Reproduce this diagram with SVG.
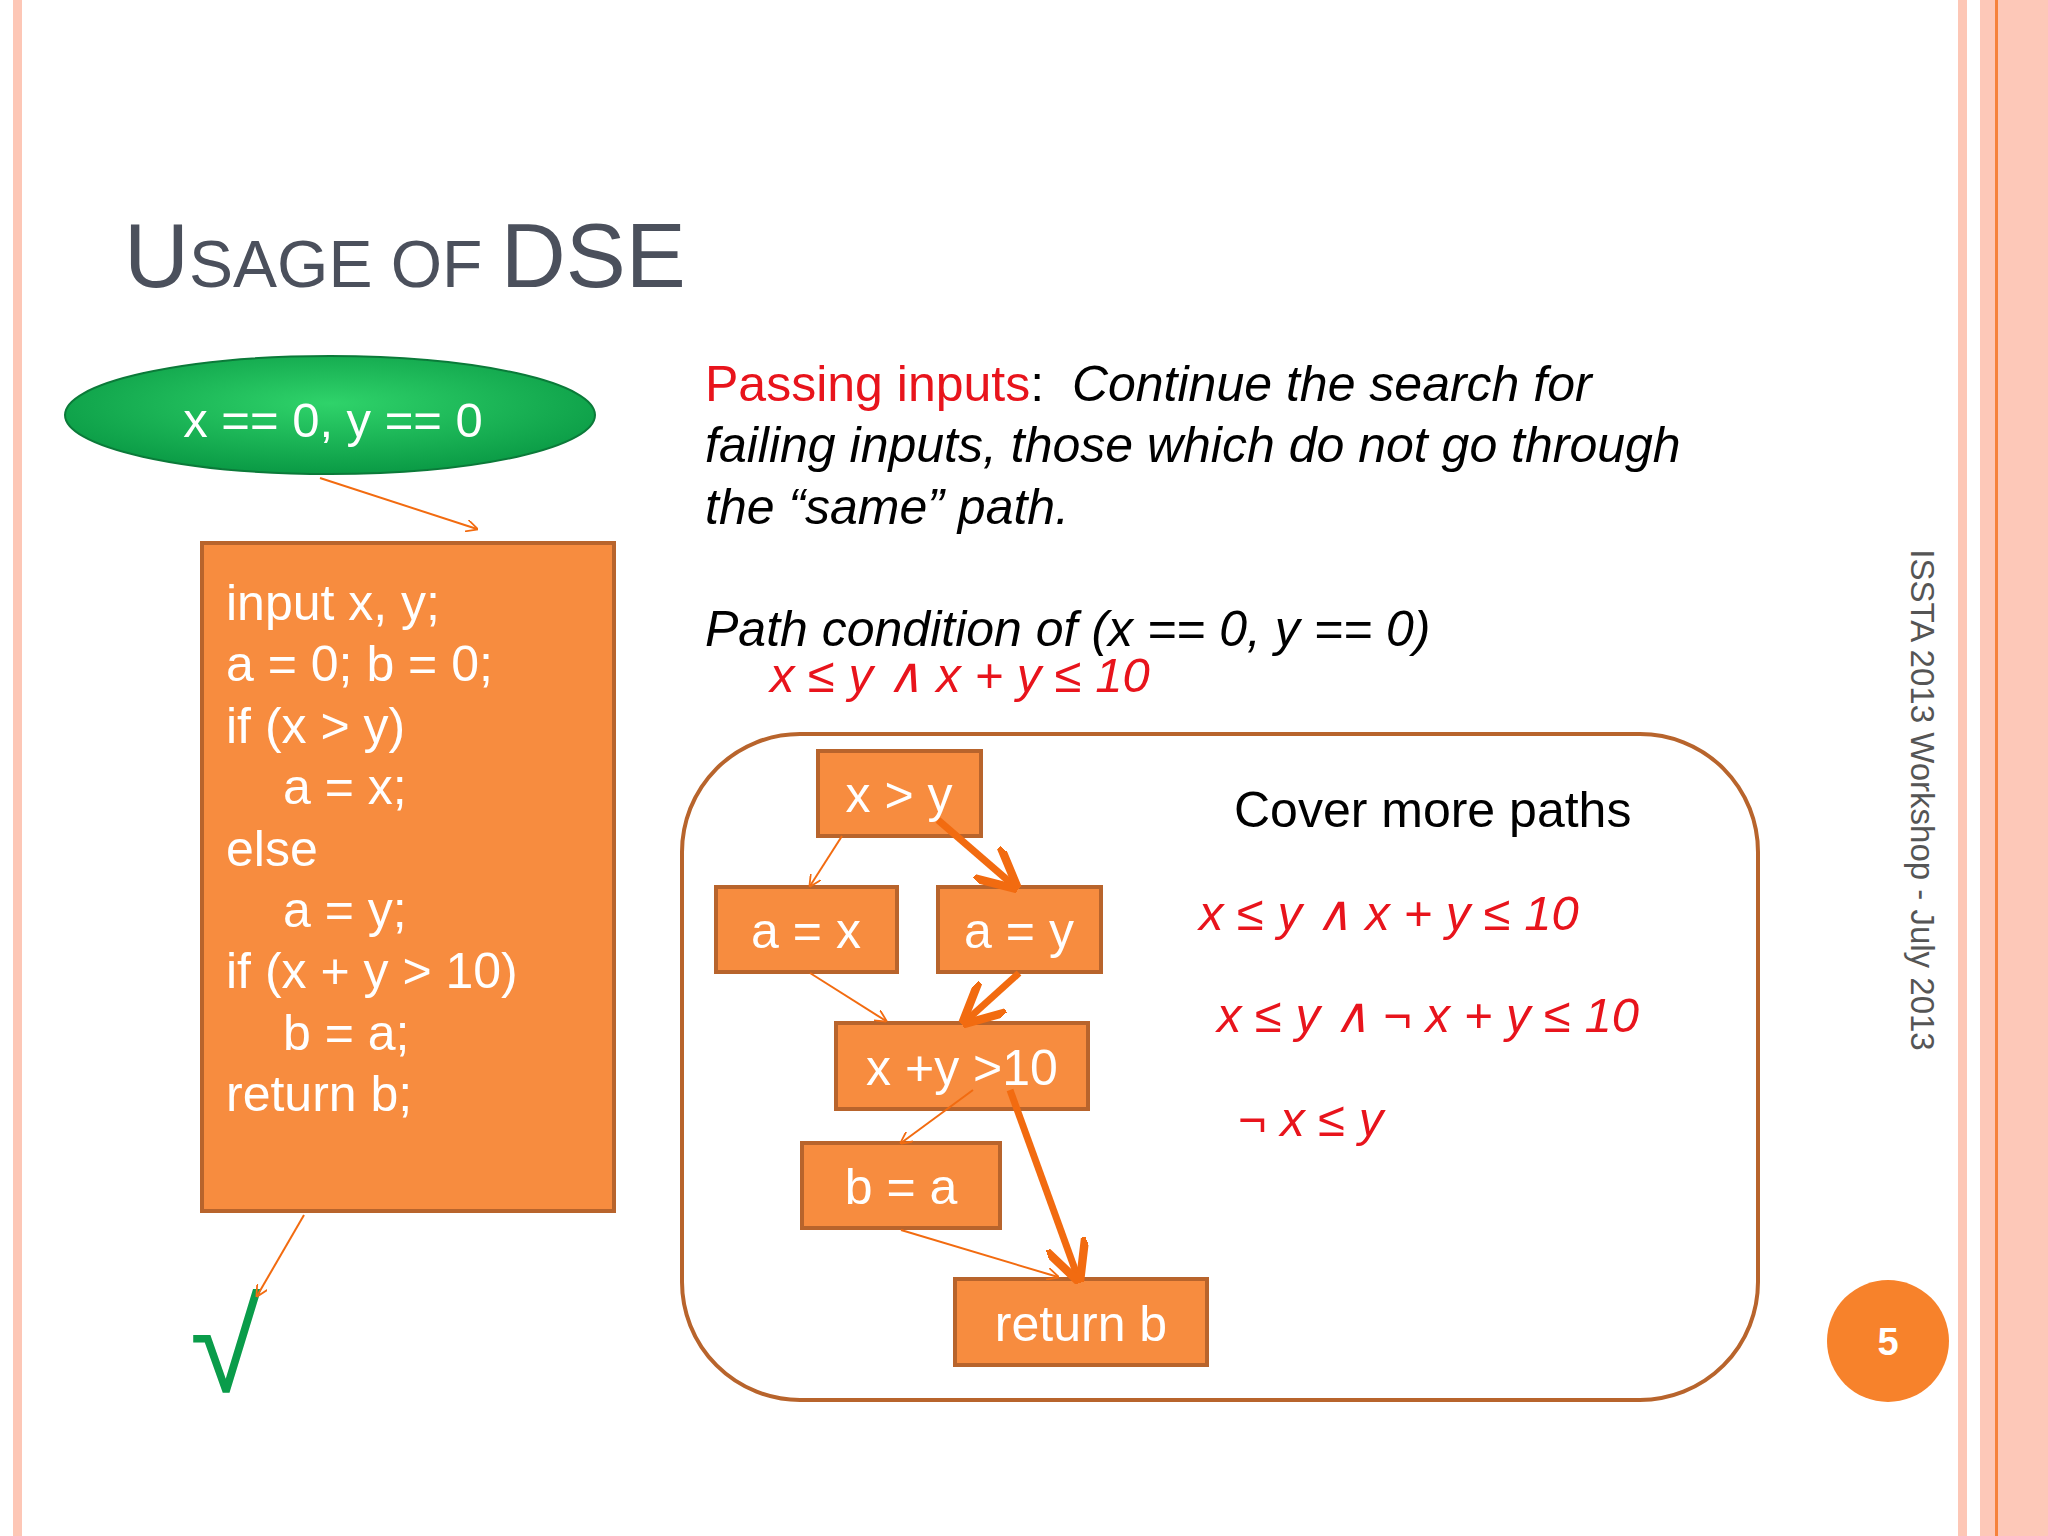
<svg xmlns="http://www.w3.org/2000/svg" width="2048" height="1536" viewBox="0 0 2048 1536">
<defs>
<style>
.t{font-family:"Liberation Sans",Arial,sans-serif}
.node rect{fill:#f78c3f;stroke:#b8642c;stroke-width:4}
.node text{fill:#fff;font-size:50px;text-anchor:middle;font-family:"Liberation Sans",Arial,sans-serif}
.code{fill:#fff;font-size:50px;font-family:"Liberation Sans",Arial,sans-serif}
.red{fill:#e8141c;font-size:49px;font-style:italic;font-family:"Liberation Sans",Arial,sans-serif}
.thin{stroke:#f26b10;stroke-width:2;fill:none}
.thick{stroke:#f26b10;stroke-width:7;fill:none}
</style>
<marker id="ah" viewBox="0 0 10 10" refX="9" refY="5" markerWidth="12" markerHeight="12" markerUnits="userSpaceOnUse" orient="auto"><path d="M0,0L10,5L0,10" fill="none" stroke="#f26b10" stroke-width="1.5"/></marker>
<marker id="ahT" viewBox="0 0 10 10" refX="8" refY="5" markerWidth="6" markerHeight="6" orient="auto"><path d="M0,0L10,5L0,10" fill="none" stroke="#f26b10" stroke-width="2"/></marker>
<radialGradient id="eg" cx="50%" cy="40%" r="60%"><stop offset="0" stop-color="#2fd36a"/><stop offset="1" stop-color="#0a9a45"/></radialGradient>
</defs>
<rect width="2048" height="1536" fill="#fff"/>
<rect x="13" y="0" width="9" height="1536" fill="#fdc7b6"/>
<rect x="1958" y="0" width="9" height="1536" fill="#fdc7b6"/>
<rect x="1980" y="0" width="68" height="1536" fill="#fdc8b8"/>
<rect x="1995" y="0" width="3" height="1536" fill="#f6823c"/>
<text class="t" x="124" y="287" fill="#4b505c" font-size="90">U<tspan font-size="66">SAGE OF </tspan>DSE</text>
<g id="start">
<ellipse cx="330" cy="415" rx="265" ry="59" fill="url(#eg)" stroke="#0b7a39" stroke-width="2"/>
<text class="t" x="333" y="437" fill="#fff" font-size="49" text-anchor="middle">x == 0, y == 0</text>
</g>
<g id="code">
<rect x="202" y="543" width="412" height="668" fill="#f78c3f" stroke="#b8642c" stroke-width="4"/>
<text class="code" x="226" y="620">input x, y;</text>
<text class="code" x="226" y="681">a = 0; b = 0;</text>
<text class="code" x="226" y="743">if (x &gt; y)</text>
<text class="code" x="283" y="804">a = x;</text>
<text class="code" x="226" y="866">else</text>
<text class="code" x="283" y="927">a = y;</text>
<text class="code" x="226" y="988">if (x + y &gt; 10)</text>
<text class="code" x="283" y="1050">b = a;</text>
<text class="code" x="226" y="1111">return b;</text>
</g>
<g id="check"><text class="t" x="190" y="1392" fill="#0a9c4a" font-size="130">√</text></g>
<g id="desc">
<text class="t" x="705" y="401" font-size="50" xml:space="preserve"><tspan fill="#e8141c">Passing inputs</tspan><tspan fill="#000">:  </tspan><tspan fill="#000" font-style="italic">Continue the search for</tspan></text>
<text class="t" x="705" y="462" font-size="50" font-style="italic">failing inputs, those which do not go through</text>
<text class="t" x="705" y="524" font-size="50" font-style="italic">the “same” path.</text>
<text class="t" x="705" y="646" font-size="50" font-style="italic">Path condition of (x == 0, y == 0)</text>
<text class="red" x="770" y="692">x ≤ y ∧ x + y ≤ 10</text>
</g>
<g id="panel"><rect x="682" y="734" width="1076" height="666" rx="118" fill="none" stroke="#b8642c" stroke-width="4"/></g>
<g id="n_xy" class="node"><rect x="818" y="751" width="163" height="85"/><text x="899" y="812">x &gt; y</text></g>
<g id="n_ax" class="node"><rect x="716" y="887" width="181" height="85"/><text x="806" y="948">a = x</text></g>
<g id="n_ay" class="node"><rect x="938" y="887" width="163" height="85"/><text x="1019" y="948">a = y</text></g>
<g id="n_sum" class="node"><rect x="836" y="1023" width="252" height="86"/><text x="962" y="1085">x +y &gt;10</text></g>
<g id="n_ba" class="node"><rect x="802" y="1143" width="198" height="85"/><text x="901" y="1204">b = a</text></g>
<g id="n_ret" class="node"><rect x="955" y="1279" width="252" height="86"/><text x="1081" y="1341">return b</text></g>
<g id="connectors">
<line class="thin" x1="320" y1="478" x2="477" y2="529" marker-end="url(#ah)"/>
<line class="thin" x1="304" y1="1215" x2="257" y2="1296" marker-end="url(#ah)"/>
<line class="thin" x1="842" y1="836" x2="810" y2="886" marker-end="url(#ah)"/>
<line class="thick" x1="938" y1="820" x2="1012" y2="884" marker-end="url(#ahT)"/>
<line class="thin" x1="810" y1="973" x2="886" y2="1021" marker-end="url(#ah)"/>
<line class="thick" x1="1019" y1="973" x2="968" y2="1019" marker-end="url(#ahT)"/>
<line class="thin" x1="973" y1="1090" x2="901" y2="1143" marker-end="url(#ah)"/>
<line class="thick" x1="1010" y1="1090" x2="1077" y2="1275" marker-end="url(#ahT)"/>
<line class="thin" x1="901" y1="1230" x2="1058" y2="1277" marker-end="url(#ah)"/>
</g>
<g id="paths">
<text class="t" x="1234" y="827" font-size="50" fill="#000">Cover more paths</text>
<text class="red" x="1199" y="930">x ≤ y ∧ x + y ≤ 10</text>
<text class="red" x="1217" y="1032">x ≤ y ∧ ¬ x + y ≤ 10</text>
<text class="red" x="1238" y="1136">¬ x ≤ y</text>
</g>
<g id="footer">
<text class="t" x="0" y="0" font-size="33" fill="#555" text-anchor="middle" transform="translate(1911,800) rotate(90)">ISSTA 2013 Workshop - July 2013</text>
<circle cx="1888" cy="1341" r="61" fill="#f7822b"/>
<text class="t" x="1888" y="1355" font-size="38" font-weight="bold" fill="#fff" text-anchor="middle">5</text>
</g>
</svg>
